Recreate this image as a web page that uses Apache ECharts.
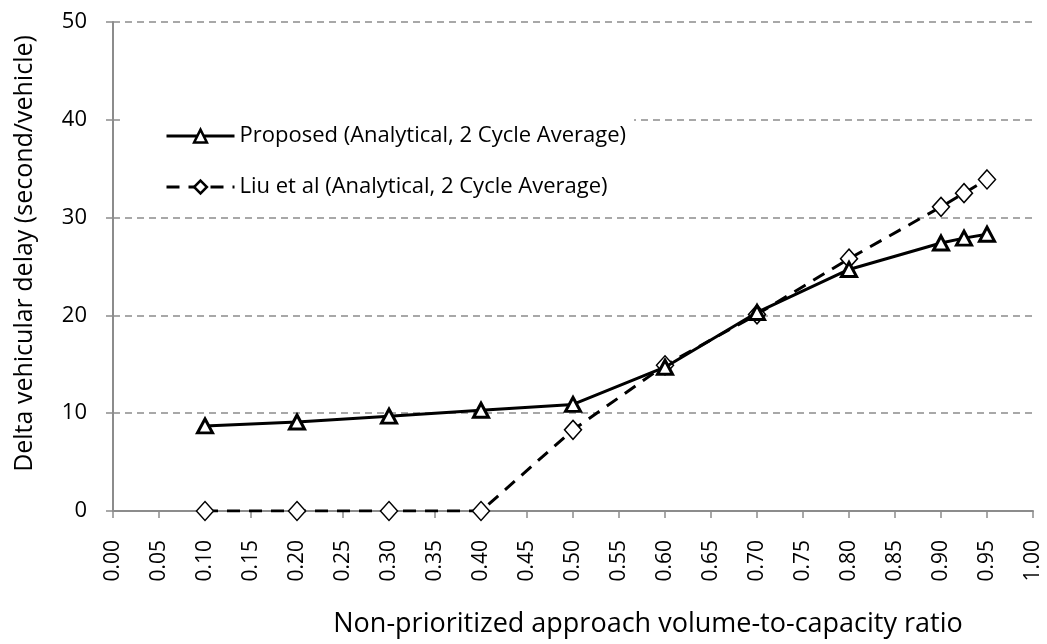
<!DOCTYPE html>
<html>
<head>
<meta charset="utf-8">
<script src="https://cdn.jsdelivr.net/npm/echarts@6/dist/echarts.min.js"></script>
<style>
html, body { margin: 0; padding: 0; background: #fff; }
#chart { width: 1047px; height: 644px; }
</style>
</head>
<body>
<div id="chart"></div>
<script>
// x values (volume-to-capacity ratio)
var ratios = [0.1, 0.2, 0.3, 0.4, 0.5, 0.6, 0.7, 0.8, 0.9, 0.925, 0.95];
// delta delay, seconds per vehicle
var proposed = [8.7, 9.1, 9.7, 10.3, 10.9, 14.7, 20.3, 24.7, 27.4, 27.9, 28.3];
var liu = [0, 0, 0, 0, 8.3, 14.9, 20.1, 25.8, 31.1, 32.5, 33.9];
var seriesNames = [
    "Proposed (Analytical, 2 Cycle Average)",
    "Liu et al (Analytical, 2 Cycle Average)"
];

function pairs(ys) {
    return ratios.map(function (x, i) {
        return [x, ys[i]];
    });
}

var font = "'Open Sans', Lato, sans-serif";
var gray = "#8c8c8c";

var myChart = echarts.init(document.getElementById("chart"));
myChart.setOption({
    animation: false,
    backgroundColor: "#fff",
    grid: {
        left: 113,
        right: 14,
        top: 22,
        bottom: 133
    },
    legend: {
        orient: "vertical",
        left: 125,
        top: 113,
        backgroundColor: "#fff",
        padding: [12, 8, 12, 40],
        itemWidth: 68,
        itemHeight: 16,
        itemGap: 29,
        lineStyle: { width: 3 },
        itemStyle: { borderWidth: 2.5 },
        textStyle: {
            fontFamily: font,
            fontSize: 22,
            color: "#000"
        },
        data: seriesNames
    },
    xAxis: {
        type: "value",
        min: 0,
        max: 1,
        interval: 0.05,
        name: "Non-prioritized approach volume-to-capacity ratio",
        nameLocation: "middle",
        nameGap: 100,
        nameTextStyle: {
            fontFamily: font,
            fontSize: 27,
            color: "#000",
            padding: [0, 0, 0, 150]
        },
        axisLine: { lineStyle: { color: gray, width: 2 } },
        axisTick: { show: true, length: 7, lineStyle: { color: gray, width: 1.5 } },
        axisLabel: {
            rotate: 90,
            margin: 29,
            fontFamily: font,
            fontSize: 21,
            color: "#000",
            formatter: function (v) {
                return v.toFixed(2);
            }
        },
        splitLine: { show: false }
    },
    yAxis: {
        type: "value",
        min: 0,
        max: 50,
        interval: 10,
        name: "Delta vehicular delay (second/vehicle)",
        nameLocation: "middle",
        nameGap: 76,
        nameTextStyle: {
            fontFamily: font,
            fontSize: 25,
            color: "#000",
            padding: [0, 0, 0, 26]
        },
        axisLine: { show: true, lineStyle: { color: gray, width: 2 } },
        axisTick: { show: true, length: 7, lineStyle: { color: gray, width: 1.5 } },
        axisLabel: {
            margin: 26,
            fontFamily: font,
            fontSize: 22,
            color: "#000"
        },
        splitLine: {
            show: true,
            lineStyle: { color: gray, width: 1.5, type: [7, 5] }
        }
    },
    series: [
        {
            name: seriesNames[0],
            type: "line",
            data: pairs(proposed),
            symbol: "triangle",
            symbolSize: [15, 14],
            lineStyle: { color: "#000", width: 3 },
            itemStyle: { color: "#fff", borderColor: "#000", borderWidth: 3 },
            z: 3
        },
        {
            name: seriesNames[1],
            type: "line",
            data: pairs(liu),
            symbol: "diamond",
            symbolSize: [17, 19],
            lineStyle: { color: "#000", width: 3, type: [13, 9] },
            itemStyle: { color: "#fff", borderColor: "#000", borderWidth: 1.5 },
            z: 2
        }
    ]
});
</script>
</body>
</html>
